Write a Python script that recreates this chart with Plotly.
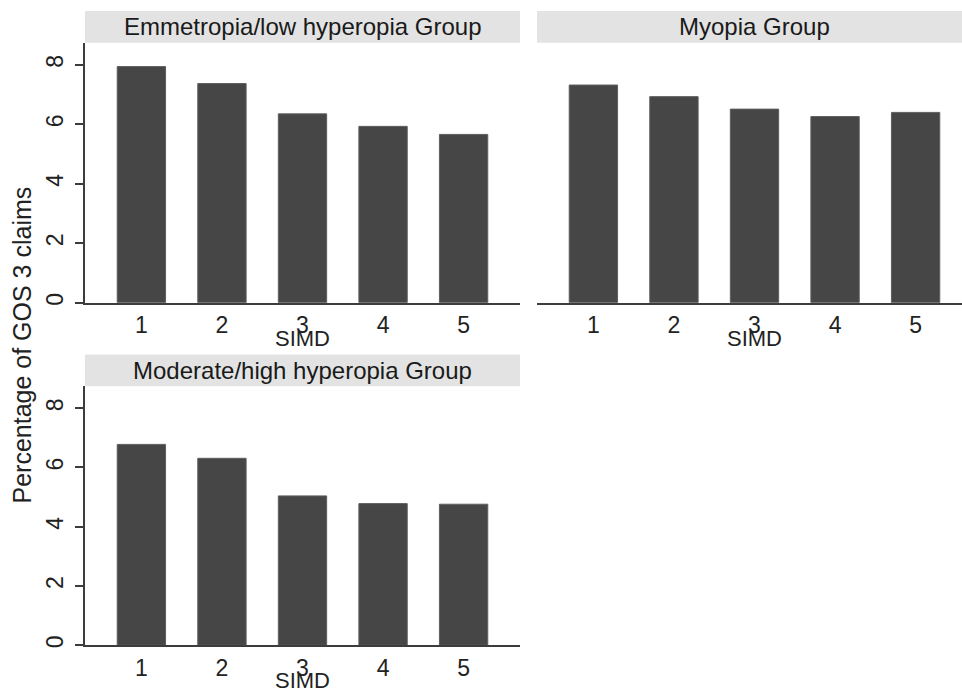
import plotly.graph_objects as go

simd = [1, 2, 3, 4, 5]
tick_labels = ["1", "2", "3", "4", "5"]
panel_titles = ["Emmetropia/low hyperopia Group", "Myopia Group", "Moderate/high hyperopia Group"]
emmetropia = [7.94, 7.37, 6.35, 5.93, 5.66]
myopia = [7.32, 6.93, 6.51, 6.26, 6.40]
moderate_high = [6.78, 6.31, 5.04, 4.78, 4.76]
y_ticks = [0, 2, 4, 6, 8]

W, H = 962, 695
FONT = "Liberation Sans, Arial, sans-serif"
BAR = "#464646"
AXIS = "#3c3c3c"
STRIP = "#e3e3e3"

# panel boxes in pixels: (x0, x1, ytop, ybottom)
boxes = [(85, 520, 43, 304), (537, 962, 43, 304), (85, 520, 388, 648)]
simd_offset = [36, 36, 35]
strip_h = 32

fig = go.Figure()
series = [emmetropia, myopia, moderate_high]
for i, vals in enumerate(series):
    n = "" if i == 0 else str(i + 1)
    fig.add_trace(go.Bar(
        x=simd, y=vals, xaxis="x" + n, yaxis="y" + n, width=0.6,
        marker=dict(color=BAR, line=dict(color="#5e5e5e", width=1)),
        showlegend=False,
    ))

layout = dict(
    width=W, height=H,
    margin=dict(l=0, r=0, t=0, b=0),
    paper_bgcolor="white", plot_bgcolor="white",
    font=dict(family=FONT, size=23, color="#222222"),
    bargap=0.4,
)
shapes = []
annotations = []
for i, (x0, x1, yt, yb) in enumerate(boxes):
    n = "" if i == 0 else str(i + 1)
    xd = [x0 / W, x1 / W]
    yd = [1 - yb / H, 1 - yt / H]
    xr = [0.3, 5.7] if i != 1 else [0.3, 0.3 + (x1 - x0) / 435 * 5.4]
    layout["xaxis" + n] = dict(
        domain=xd, anchor="y" + n, range=xr, tickvals=simd, ticktext=tick_labels,
        showline=True, linecolor=AXIS, linewidth=1.5, ticks="", showgrid=False,
        zeroline=False, tickfont=dict(size=23), ticklabelstandoff=1,
    )
    ya = dict(
        domain=yd, anchor="x" + n, range=[0, 8.74], showgrid=False, zeroline=False,
    )
    if i == 1:
        ya.update(showline=False, showticklabels=False, ticks="")
    else:
        ya.update(showline=True, linecolor=AXIS, linewidth=1.5, ticks="outside",
                  ticklen=8, tickcolor=AXIS, tickwidth=1.5, tickvals=y_ticks,
                  tickangle=-90, tickfont=dict(size=23), ticklabelstandoff=3)
    layout["yaxis" + n] = ya
    # strip
    shapes.append(dict(type="rect", xref="paper", yref="paper",
                       x0=x0 / W, x1=x1 / W, y0=1 - yt / H, y1=1 - (yt - strip_h) / H,
                       fillcolor=STRIP, line=dict(width=0), layer="below"))
    annotations.append(dict(text=panel_titles[i], xref="paper", yref="paper",
                            x=(x0 + x1) / 2 / W if i != 1 else (x0 + x0 + 435) / 2 / W,
                            y=1 - (yt - strip_h / 2) / H,
                            showarrow=False, xanchor="center", yanchor="middle",
                            font=dict(size=24, color="#1a1a1a")))
    annotations.append(dict(text="SIMD", xref="paper", yref="paper",
                            x=(x0 + (x0 + 435)) / 2 / W, y=1 - (yb + simd_offset[i]) / H,
                            showarrow=False, xanchor="center", yanchor="middle",
                            font=dict(size=22, color="#222222")))

annotations.append(dict(text="Percentage of GOS 3 claims", xref="paper", yref="paper",
                        x=22 / W, y=1 - 347 / H, textangle=-90, showarrow=False,
                        xanchor="center", yanchor="middle",
                        font=dict(size=25, color="#222222")))
layout["shapes"] = shapes
layout["annotations"] = annotations
fig.update_layout(**layout)
fig.write_html("out.html", config={"displayModeBar": False},
               post_script="document.body.style.margin='0';document.body.style.overflow='hidden';")
